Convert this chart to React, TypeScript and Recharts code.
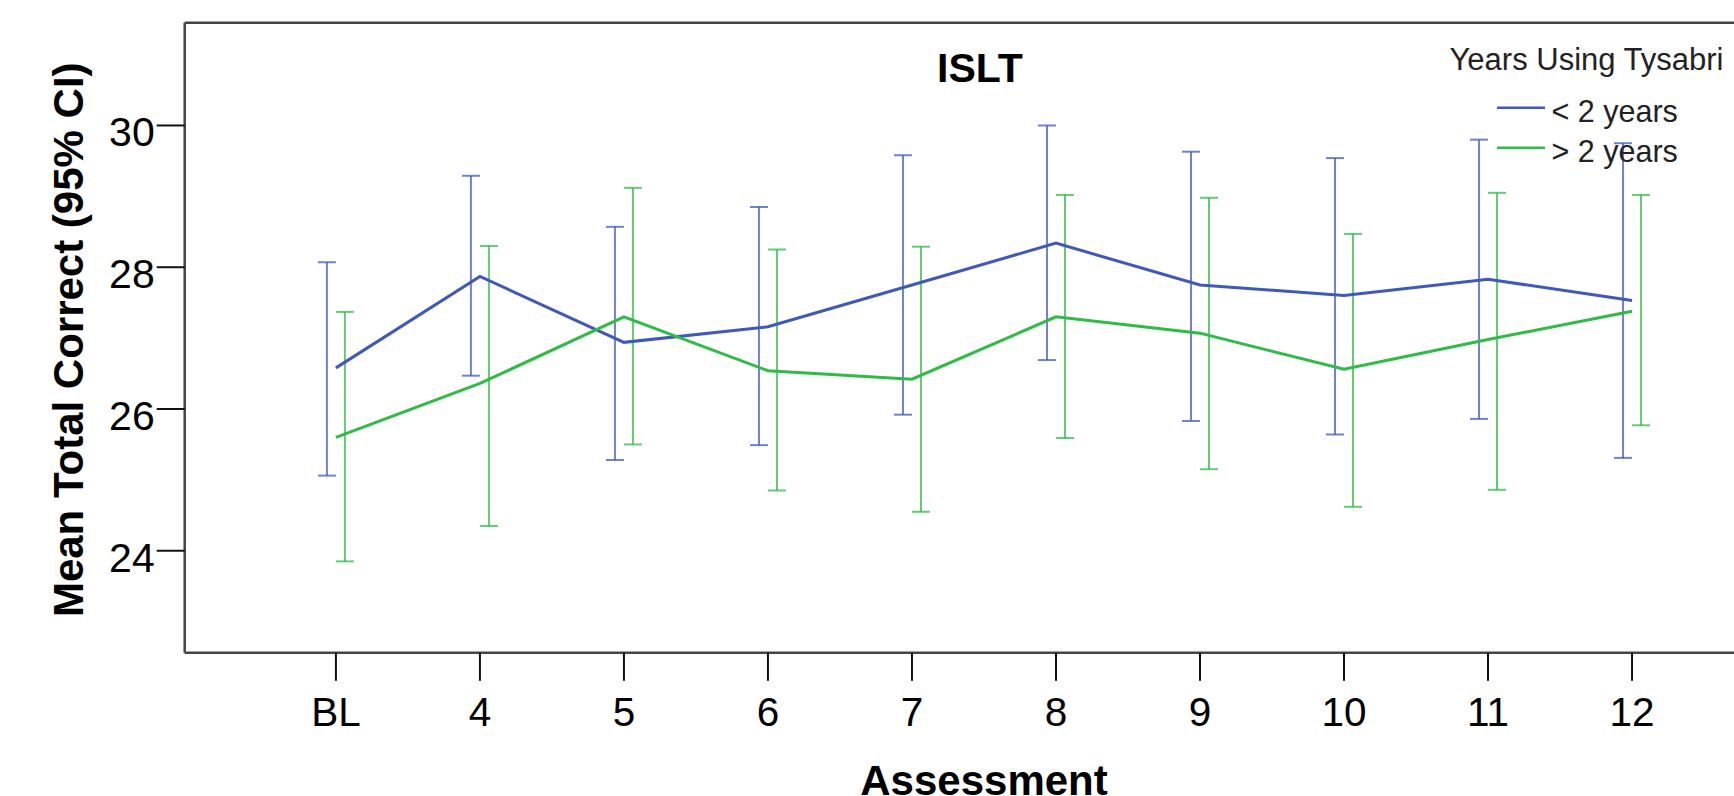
import React from 'react';
import { ComposedChart, Line, XAxis, YAxis, ErrorBar, Legend, Label, Customized } from 'recharts';

const categories = ['BL', '4', '5', '6', '7', '8', '9', '10', '11', '12'];

const lessMean = [26.58, 27.87, 26.94, 27.16, 27.75, 28.34, 27.75, 27.60, 27.83, 27.53];
const lessLow = [25.06, 26.47, 25.28, 25.49, 25.92, 26.69, 25.83, 25.64, 25.86, 25.31];
const lessHigh = [28.07, 29.29, 28.57, 28.85, 29.58, 30.00, 29.63, 29.54, 29.80, 29.75];

const moreMean = [25.60, 26.36, 27.30, 26.54, 26.42, 27.30, 27.07, 26.56, 26.98, 27.38];
const moreLow = [23.85, 24.35, 25.50, 24.85, 24.55, 25.59, 25.15, 24.62, 24.86, 25.77];
const moreHigh = [27.37, 28.30, 29.12, 28.25, 28.29, 29.02, 28.98, 28.47, 29.05, 29.02];

const yTicks = [24, 26, 28, 30];
const xTicks = categories.map((_, i) => i);

const BLUE = '#3f59ba';
const GREEN = '#2ebb46';
const FONT = '"Liberation Sans", Arial, sans-serif';
const ERR_OFFSET = 0.0625;

const lessLine = categories.map((c, i) => ({ x: i, mean: lessMean[i] }));
const moreLine = categories.map((c, i) => ({ x: i, mean: moreMean[i] }));
const lessErr = categories.map((c, i) => ({
  x: i - ERR_OFFSET,
  mean: lessMean[i],
  err: [lessMean[i] - lessLow[i], lessHigh[i] - lessMean[i]],
}));
const moreErr = categories.map((c, i) => ({
  x: i + ERR_OFFSET,
  mean: moreMean[i],
  err: [moreMean[i] - moreLow[i], moreHigh[i] - moreMean[i]],
}));

const XTick = (props: any) => {
  const { x, y, payload } = props;
  return (
    <text x={x} y={y + 30.5} textAnchor="middle" fontFamily={FONT} fontSize={40.5} fill="#000">
      {categories[payload.value]}
    </text>
  );
};

const YTick = (props: any) => {
  const { x, y, payload } = props;
  return (
    <text x={x} y={y + 21} textAnchor="end" fontFamily={FONT} fontSize={41} fill="#000">
      {payload.value}
    </text>
  );
};

const legendItems = [
  { label: '< 2 years', color: BLUE },
  { label: '> 2 years', color: GREEN },
];

const renderLegend = () => (
  <svg width={290} height={150} style={{ display: 'block' }}>
    <text x={9.5} y={40} fontFamily={FONT} fontSize={31} fill="#222">
      Years Using Tysabri
    </text>
    {legendItems.map((it, k) => (
      <g key={it.label}>
        <line x1={57} x2={105} y1={77.7 + k * 40} y2={77.7 + k * 40} stroke={it.color} strokeWidth={2.5} />
        <text x={111.5} y={91.7 + k * 40} fontFamily={FONT} fontSize={30.5} fill="#222">
          {it.label}
        </text>
      </g>
    ))}
  </svg>
);

export default function App() {
  return (
    <div style={{ position: 'fixed', left: 0, top: 0, width: 1734, height: 796, overflow: 'hidden', background: '#fff' }}>
      <ComposedChart
        width={1734}
        height={796}
        margin={{ top: 21.7, right: 0, bottom: 83.2, left: 84.7 }}
      >
        <XAxis
          xAxisId="b"
          dataKey="x"
          type="number"
          domain={[-1.05, 9.708]}
          allowDataOverflow
          ticks={xTicks}
          interval={0}
          height={60}
          tickSize={28}
          tickMargin={15}
          tick={<XTick />}
          tickLine={{ stroke: '#111', strokeWidth: 2 }}
          axisLine={{ stroke: '#444', strokeWidth: 2.5 }}
        >
          <Label
            content={() => (
              <text x={984} y={795} textAnchor="middle" fontFamily={FONT} fontSize={42} fontWeight="bold" fill="#000">
                Assessment
              </text>
            )}
          />
        </XAxis>
        <XAxis
          xAxisId="t"
          orientation="top"
          dataKey="x"
          type="number"
          domain={[-1.05, 9.708]}
          allowDataOverflow
          height={1}
          tick={false}
          tickLine={false}
          axisLine={{ stroke: '#444', strokeWidth: 2.5 }}
        />
        <YAxis
          type="number"
          domain={[22.56, 31.45]}
          allowDataOverflow
          ticks={yTicks}
          width={100}
          tickSize={28}
          tickMargin={2}
          tick={<YTick />}
          tickLine={{ stroke: '#111', strokeWidth: 2 }}
          axisLine={{ stroke: '#444', strokeWidth: 2.5 }}
        >
          <Label
            content={(p: any) => {
              const vb = p.viewBox || { x: 84.7, y: 22.7, width: 100, height: 630 };
              const cx = 83;
              const cy = vb.y + vb.height / 2 + 2;
              return (
                <text
                  x={cx}
                  y={cy}
                  transform={`rotate(-90, ${cx}, ${cy})`}
                  textAnchor="middle"
                  fontFamily={FONT}
                  fontSize={42}
                  fontWeight="bold"
                  fill="#000"
                >
                  Mean Total Correct (95% CI)
                </text>
              );
            }}
          />
        </YAxis>

        <Line
          xAxisId="b"
          data={lessErr}
          dataKey="mean"
          stroke="none"
          dot={false}
          activeDot={false}
          legendType="none"
          isAnimationActive={false}
        >
          <ErrorBar dataKey="err" width={9} stroke={BLUE} strokeOpacity={0.75} strokeWidth={2} direction="y" isAnimationActive={false} />
        </Line>
        <Line
          xAxisId="b"
          data={moreErr}
          dataKey="mean"
          stroke="none"
          dot={false}
          activeDot={false}
          legendType="none"
          isAnimationActive={false}
        >
          <ErrorBar dataKey="err" width={9} stroke={GREEN} strokeOpacity={0.75} strokeWidth={2} direction="y" isAnimationActive={false} />
        </Line>
        <Line
          xAxisId="b"
          data={lessLine}
          dataKey="mean"
          name="< 2 years"
          stroke={BLUE}
          strokeWidth={3}
          dot={false}
          activeDot={false}
          isAnimationActive={false}
        />
        <Line
          xAxisId="b"
          data={moreLine}
          dataKey="mean"
          name="> 2 years"
          stroke={GREEN}
          strokeWidth={3}
          dot={false}
          activeDot={false}
          isAnimationActive={false}
        />

        <Customized
          component={() => (
            <text x={980} y={81.7} textAnchor="middle" fontFamily={FONT} fontSize={41} fontWeight="bold" fill="#000">
              ISLT
            </text>
          )}
        />

        <Legend
          layout="vertical"
          align="center"
          verticalAlign="middle"
          content={renderLegend}
          wrapperStyle={{ position: 'absolute', left: 1440, top: 30, width: 290, height: 150, bottom: 'auto', right: 'auto' }}
        />
      </ComposedChart>
    </div>
  );
}
